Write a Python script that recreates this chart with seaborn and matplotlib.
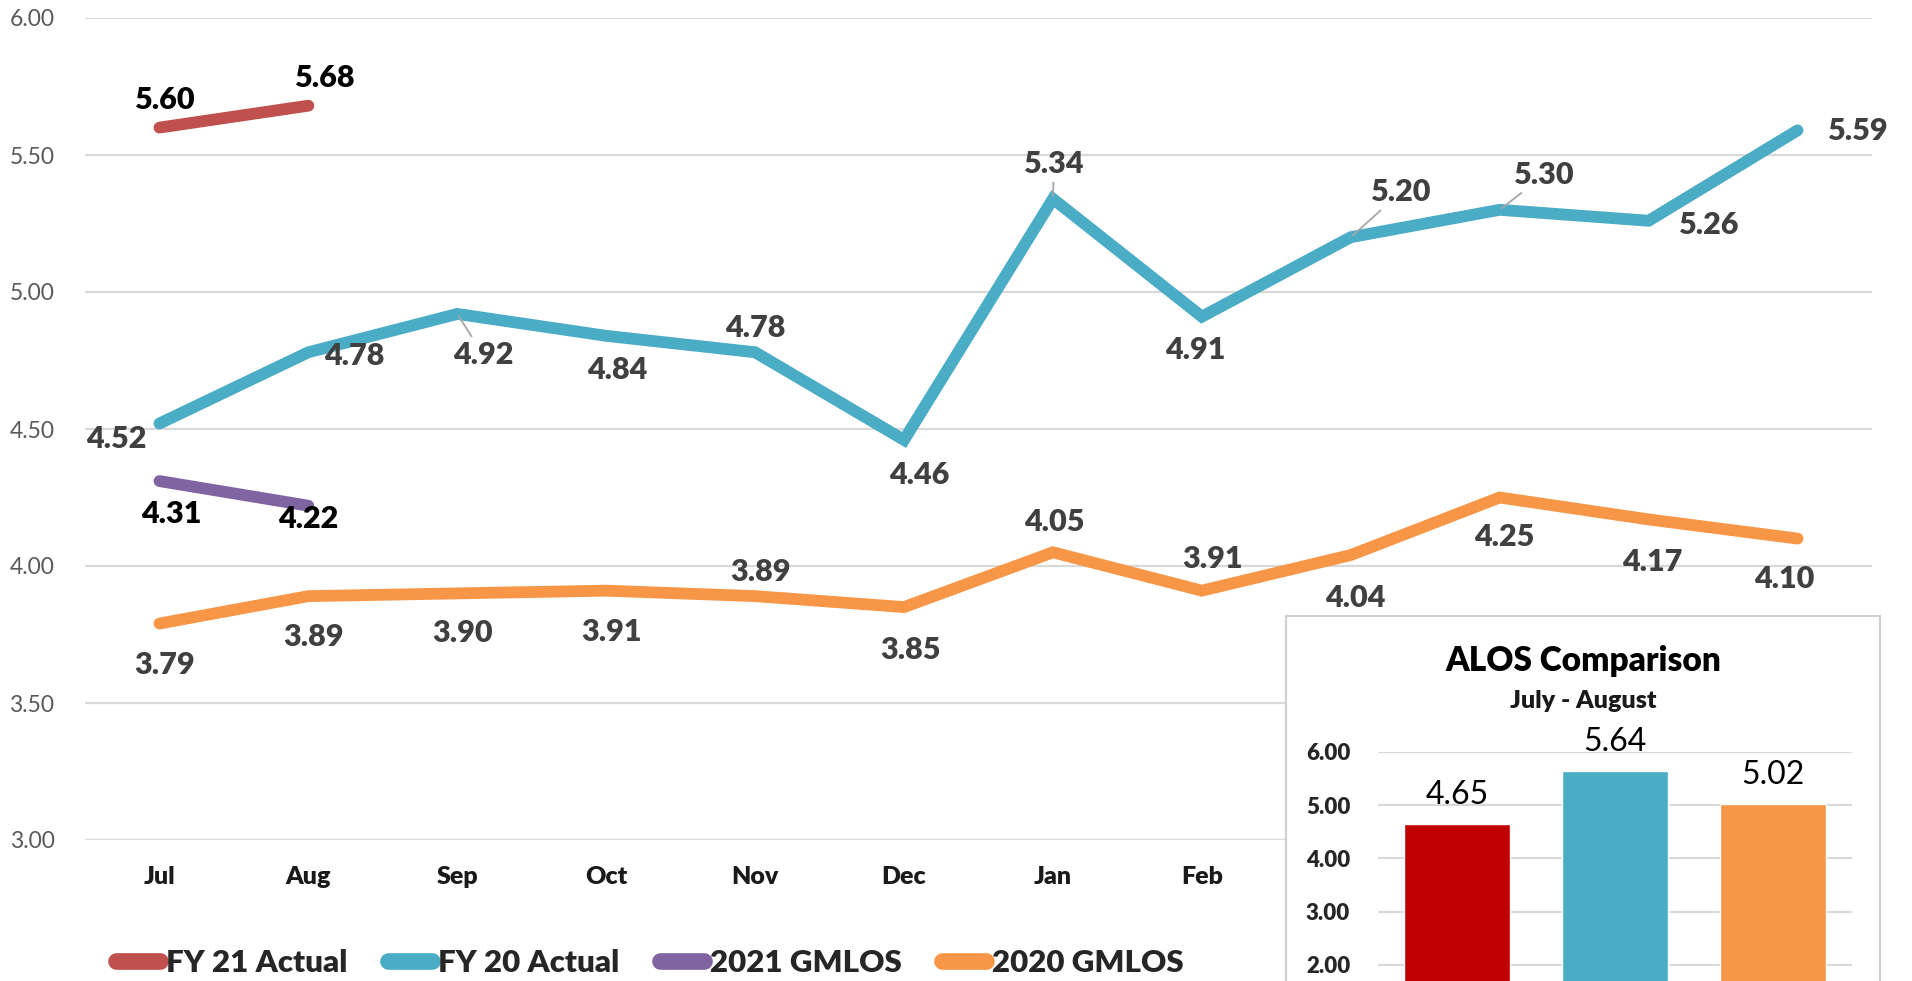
import matplotlib
matplotlib.use("Agg")
import matplotlib.pyplot as plt
from matplotlib.lines import Line2D
import matplotlib.ticker as mticker
import seaborn as sns
import pandas as pd

# ---- data -------------------------------------------------------------
months = ["Jul", "Aug", "Sep", "Oct", "Nov", "Dec",
          "Jan", "Feb", "Mar", "Apr", "May", "Jun"]
fy21_actual = [5.60, 5.68]
fy20_actual = [4.52, 4.78, 4.92, 4.84, 4.78, 4.46, 5.34, 4.91, 5.20, 5.30, 5.26, 5.59]
gmlos_2021 = [4.31, 4.22]
gmlos_2020 = [3.79, 3.89, 3.90, 3.91, 3.89, 3.85, 4.05, 3.91, 4.04, 4.25, 4.17, 4.10]

alos_groups = ["FY 21 Actual", "FY 20 Actual", "2020 GMLOS"]
alos_values = [4.65, 5.64, 5.02]

# ---- styling ----------------------------------------------------------
sns.set_theme(style="white")
plt.rcParams["font.family"] = ["Lato", "DejaVu Sans"]

C_FY21 = "#C0504D"
C_FY20 = "#4BACC6"
C_G21 = "#8064A2"
C_G20 = "#F79646"
GRID = "#D9D9D9"
LABEL_GREY = "#404040"
HEAVY = "heavy"

# label offsets in pixels (dx, dy) for each point of each series
off_fy21 = [(6, 28), (17, 28)]
off_fy20 = [(-43, -15), (46, -4), (26, -41), (11, -34), (0, 24), (15, -35),
            (1, 35), (-7, -33), (50, 45), (45, 35), (61, -4), (61, -1)]
lead_fy20 = {2, 6, 8, 9}
off_g21 = [(12, -33), (0, -13)]
off_g20 = [(5, -41), (5, -41), (5, -40), (5, -41), (5, 24), (6, -43),
           (1, 30), (11, 32), (4, -43), (5, -40), (4, -43), (-13, -40)]

W, H = 1912, 981
BOX_LEFT, BOX_RIGHT, BOX_TOP = 1286, 1880, 616
fig = plt.figure(figsize=(W / 100, H / 100), dpi=100)
fig.patch.set_facecolor("white")

ax = fig.add_axes([85 / W, 1 - 840 / H, (1872 - 85) / W, (840 - 18) / H])
ax.set_zorder(1)

LW = 8.5
series = [
    (fy21_actual, C_FY21, off_fy21, "black", set()),
    (fy20_actual, C_FY20, off_fy20, LABEL_GREY, lead_fy20),
    (gmlos_2021, C_G21, off_g21, "black", set()),
    (gmlos_2020, C_G20, off_g20, LABEL_GREY, set()),
]

for vals, color, offs, tcol, leaders in series:
    xs = months[:len(vals)]
    sns.lineplot(x=xs, y=vals, ax=ax, color=color, linewidth=LW, sort=False,
                 solid_capstyle="round", solid_joinstyle="miter", legend=False)

for vals, color, offs, tcol, leaders in series:
    for i, (v, (dx, dy)) in enumerate(zip(vals, offs)):
        kw = {}
        if i in leaders:
            kw["arrowprops"] = dict(arrowstyle="-", color="#A6A6A6", lw=1.3,
                                    shrinkA=1, shrinkB=2)
        ax.annotate(f"{v:.2f}", xy=(i, v), xytext=(dx, dy),
                    textcoords="offset pixels", ha="center", va="center",
                    fontsize=22, fontweight=HEAVY, color=tcol, zorder=5, **kw)

ax.set_xlim(-0.5, 11.5)
ax.set_ylim(3.0, 6.0)
ax.set_yticks([3.0, 3.5, 4.0, 4.5, 5.0, 5.5, 6.0])
ax.yaxis.set_major_formatter(mticker.FormatStrFormatter("%.2f"))
ax.grid(axis="y", color=GRID, linewidth=1.6)
ax.grid(axis="x", visible=False)
ax.set_axisbelow(True)
for s in ax.spines.values():
    s.set_visible(False)
ax.tick_params(axis="y", length=0, pad=22, labelsize=16.5, labelcolor="#595959")
ax.tick_params(axis="x", length=0, pad=19, labelsize=18)

# month labels that sit underneath the inset panel stay hidden
fig.canvas.draw()
for t in ax.get_xticklabels():
    t.set_fontweight(HEAVY)
    t.set_color("#1a1a1a")
    x_disp = ax.transData.transform((t.get_position()[0], 0))[0]
    if x_disp > BOX_LEFT - 20:
        t.set_visible(False)
ax.set_xlabel("")
ax.set_ylabel("")

# ---- legend -----------------------------------------------------------
handles = [Line2D([], [], color=c, lw=12, solid_capstyle="round")
           for c in (C_FY21, C_FY20, C_G21, C_G20)]
labels = ["FY 21 Actual", "FY 20 Actual", "2021 GMLOS", "2020 GMLOS"]
fig.legend(handles, labels, loc="center", bbox_to_anchor=(650 / W, 1 - 963 / H),
           ncol=4, frameon=False, handlelength=1.4, handletextpad=0.2,
           columnspacing=1.3, prop={"weight": HEAVY, "size": 22.5})

# ---- inset: ALOS comparison ------------------------------------------
box = fig.add_axes([BOX_LEFT / W, -0.05, (BOX_RIGHT - BOX_LEFT) / W,
                    (H - BOX_TOP) / H + 0.05])
box.set_zorder(3)
box.set_xticks([])
box.set_yticks([])
box.set_facecolor("white")
for s in box.spines.values():
    s.set_color("#D0D0D0")
    s.set_linewidth(1.5)

fig.text(1583 / W, 1 - 661 / H, "ALOS Comparison", ha="center", va="center",
         fontsize=24, fontweight=HEAVY, color="black", zorder=6)
fig.text(1583 / W, 1 - 701 / H, "July - August", ha="center", va="center",
         fontsize=18, fontweight=HEAVY, color="#1a1a1a", zorder=6)

ins = fig.add_axes([1378 / W, 1 - 1071 / H, (1852 - 1378) / W, (1071 - 752) / H])
ins.set_zorder(4)
ins.patch.set_alpha(0)
alos_df = pd.DataFrame({"group": alos_groups, "value": alos_values})
sns.barplot(data=alos_df, x="group", y="value", hue="group",
            palette=["#C00000", C_FY20, C_G20], width=0.665, ax=ins,
            legend=False, saturation=1)
for cont in ins.containers:
    ins.bar_label(cont, fmt="%.2f", padding=10, fontsize=23, color="black")
ins.set_xlim(-0.5, 2.5)
ins.set_ylim(0, 6)
ins.set_yticks([2, 3, 4, 5, 6])
ins.yaxis.set_major_formatter(mticker.FormatStrFormatter("%.2f"))
ins.grid(axis="y", color=GRID, linewidth=1.5)
ins.set_axisbelow(True)
for s in ins.spines.values():
    s.set_visible(False)
ins.tick_params(axis="y", length=0, pad=20, labelsize=16)
for t in ins.get_yticklabels():
    t.set_fontweight(HEAVY)
ins.set_xticks([])
ins.set_xlabel("")
ins.set_ylabel("")

fig.savefig("out.png", dpi=100, facecolor="white")
